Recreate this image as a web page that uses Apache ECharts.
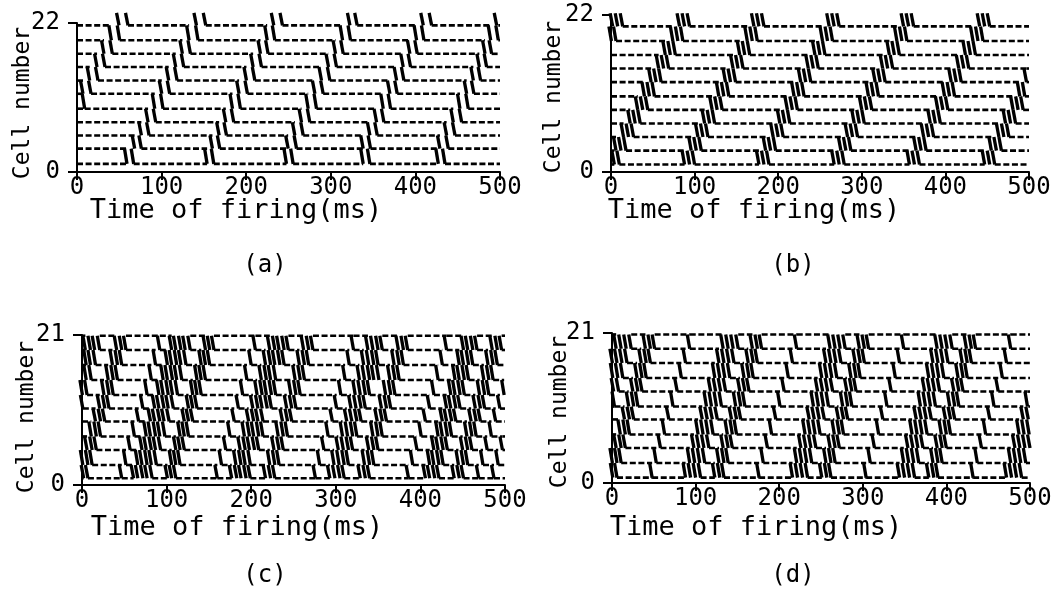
<!DOCTYPE html>
<html>
<head>
<meta charset="utf-8">
<script src="https://cdn.jsdelivr.net/npm/echarts@6/dist/echarts.min.js"></script>
<style>
  html, body { margin: 0; padding: 0; background: #fff; }
  #chart { width: 1056px; height: 590px; }
</style>
</head>
<body>
<div id="chart"></div>
<script>
// ---- data ---------------------------------------------------------------
const timeTicks = [0, 100, 200, 300, 400, 500];
const panelLabels = ['(a)', '(b)', '(c)', '(d)'];
const cellMax = [22, 22, 21, 21];
const xTitle = 'Time of firing(ms)';
const yTitle = 'Cell number';

// level (cell number) of each dashed row, top row first
const rowsA = [21.65, 19.45, 17.45, 15.5, 13.5, 11.55, 9.35, 7.35, 5.4, 3.45, 1.2];
const rowsB = [20.4, 18.35, 16.4, 14.5, 12.6, 10.6, 8.7, 6.8, 4.9, 3.0, 1.05];
const rowsC = [20.9, 18.9, 16.8, 14.7, 12.6, 10.7, 8.9, 6.8, 4.9, 2.8, 0.95];
const rowsD = [20.8, 18.8, 16.8, 14.7, 12.8, 10.7, 8.9, 6.8, 4.9, 2.8, 0.75];

// firing times (ms), one list per row of spikes, top first
const spikesA = [
  [49.7, 60.3, 141.2, 152.2, 232.6, 242.9, 322.6, 331.2, 409.3, 419.2, 496.1],
  [40.6, 50.5, 132.5, 143.1, 224.8, 233.8, 313.9, 323.3, 401.4, 410.1, 489.0, 498.0],
  [31.9, 41.8, 124.6, 134.1, 216.9, 225.9, 305.6, 314.7, 393.5, 402.2, 482.3, 490.1],
  [23.7, 33.1, 116.7, 126.2, 208.2, 218.1, 297.3, 306.8, 385.6, 394.3, 475.6, 484.2],
  [15.0, 24.8, 108.4, 118.3, 200.3, 210.2, 289.0, 298.9, 377.8, 386.4, 468.5, 477.1],
  [7.1, 16.6, 100.2, 109.6, 191.6, 201.5, 281.2, 291.0, 369.9, 378.5, 460.6, 469.2],
  [9.1, 91.9, 101.7, 183.8, 193.2, 273.3, 283.1, 362.0, 370.7, 452.7, 462.5],
  [84.0, 93.1, 175.9, 185.3, 265.4, 275.2, 354.1, 362.8, 444.8, 454.7],
  [76.1, 85.2, 168.0, 176.7, 257.5, 267.4, 346.2, 354.9, 436.9, 446.8],
  [68.2, 76.1, 160.1, 168.8, 249.6, 259.5, 338.3, 347.0, 429.0, 438.9],
  [59.1, 67.0, 153.8, 161.7, 247.6, 255.5, 338.3, 346.2, 427.1, 435.0]
];
const spikesB = [
  [2, 8, 14, 82, 88, 94, 171, 177, 183, 261, 267, 273, 350, 356, 362, 441, 447, 453],
  [0.5, 6, 74, 80, 86, 163, 169, 175, 253, 259, 265, 342, 348, 354, 433, 439, 445],
  [65, 71, 77, 154, 160, 166, 244, 250, 256, 333, 339, 345, 424, 430, 436],
  [57, 63, 69, 146, 152, 158, 236, 242, 248, 325, 331, 337, 416, 422, 428],
  [48, 54, 60, 137, 143, 149, 227, 233, 239, 316, 322, 328, 407, 413, 419, 497],
  [40, 46, 52, 129, 135, 141, 219, 225, 231, 308, 314, 320, 399, 405, 411, 489, 495],
  [32, 38, 44, 121, 127, 133, 211, 217, 223, 300, 306, 312, 391, 397, 403, 481, 487, 493],
  [23, 29, 35, 112, 118, 124, 202, 208, 214, 291, 297, 303, 382, 388, 394, 472, 478, 484],
  [15, 21, 27, 104, 110, 116, 194, 200, 206, 283, 289, 295, 374, 380, 386, 464, 470, 476],
  [6, 12, 18, 96, 102, 108, 185, 191, 197, 275, 281, 287, 365, 371, 377, 455, 461, 467],
  [4, 10, 88, 94, 100, 177, 183, 189, 267, 273, 279, 357, 363, 369, 447, 453, 459]
];
const spikesC = [
  [4, 10, 15, 21, 41, 47, 52, 92, 106, 111, 117, 122, 128, 146, 151, 156, 205, 222, 228, 233, 239, 244, 262, 268, 273, 321, 338, 344, 350, 355, 374, 380, 385, 431, 451, 456, 462, 467, 485, 491, 496],
  [5, 10, 16, 36, 42, 47, 87, 101, 106, 112, 117, 123, 141, 146, 151, 200, 217, 223, 228, 234, 239, 257, 263, 268, 316, 333, 339, 345, 350, 369, 375, 380, 426, 446, 451, 457, 462, 480, 486, 491],
  [5, 11, 31, 37, 42, 82, 96, 101, 107, 112, 118, 136, 141, 146, 195, 212, 218, 223, 229, 252, 258, 263, 311, 328, 334, 340, 345, 351, 364, 370, 375, 421, 441, 446, 452, 457, 475, 481, 486],
  [0.5, 6, 26, 32, 37, 77, 91, 96, 102, 107, 113, 131, 136, 141, 190, 207, 213, 218, 224, 229, 247, 253, 258, 306, 323, 329, 335, 340, 359, 365, 370, 416, 436, 441, 447, 452, 470, 476, 481, 499],
  [1, 21, 27, 32, 72, 86, 91, 97, 102, 108, 126, 131, 136, 185, 202, 208, 213, 219, 224, 242, 248, 253, 301, 318, 324, 330, 335, 354, 360, 365, 411, 431, 436, 442, 447, 465, 471, 476, 494],
  [16, 22, 27, 67, 81, 86, 92, 97, 103, 121, 126, 131, 180, 197, 203, 208, 214, 237, 243, 248, 296, 313, 319, 325, 330, 349, 355, 360, 406, 426, 431, 437, 442, 460, 466, 471, 489],
  [11, 17, 22, 62, 76, 81, 87, 92, 98, 116, 121, 126, 175, 192, 198, 203, 209, 214, 232, 238, 243, 291, 308, 314, 320, 325, 344, 350, 355, 401, 421, 426, 432, 437, 455, 461, 466, 484],
  [6, 12, 17, 57, 71, 76, 82, 87, 93, 111, 116, 121, 170, 187, 193, 198, 204, 209, 227, 233, 238, 286, 303, 309, 315, 320, 339, 345, 350, 396, 416, 421, 427, 432, 450, 456, 461, 479, 497],
  [1, 7, 12, 52, 66, 71, 77, 82, 88, 106, 111, 116, 165, 182, 188, 193, 199, 222, 228, 233, 281, 298, 304, 310, 315, 334, 340, 345, 391, 411, 416, 422, 427, 445, 451, 456, 474, 492],
  [2, 7, 47, 61, 66, 72, 77, 83, 101, 106, 111, 160, 177, 183, 188, 194, 199, 217, 223, 228, 276, 293, 299, 305, 310, 329, 335, 340, 386, 406, 411, 417, 422, 440, 446, 451, 469, 487]
];
const spikesD = [
  [5, 11, 17, 23, 40, 46, 51, 93, 133, 139, 145, 151, 168, 174, 179, 221, 261, 267, 273, 279, 296, 302, 307, 349, 389, 395, 401, 407, 424, 430, 435, 477],
  [0.5, 6, 12, 18, 35, 41, 46, 88, 128, 134, 140, 146, 163, 169, 174, 216, 256, 262, 268, 274, 291, 297, 302, 344, 384, 390, 396, 402, 419, 425, 430, 472],
  [1, 7, 13, 30, 36, 41, 83, 123, 129, 135, 141, 158, 164, 169, 211, 251, 257, 263, 269, 286, 292, 297, 339, 379, 385, 391, 397, 414, 420, 425, 467],
  [2, 8, 25, 31, 36, 78, 118, 124, 130, 136, 153, 159, 164, 206, 246, 252, 258, 264, 281, 287, 292, 334, 374, 380, 386, 392, 409, 415, 420, 462],
  [3, 20, 26, 31, 73, 113, 119, 125, 131, 148, 154, 159, 201, 241, 247, 253, 259, 276, 282, 287, 329, 369, 375, 381, 387, 404, 410, 415, 457, 497],
  [15, 21, 26, 68, 108, 114, 120, 126, 143, 149, 154, 196, 236, 242, 248, 254, 271, 277, 282, 324, 364, 370, 376, 382, 399, 405, 410, 452, 492, 498],
  [10, 16, 21, 63, 103, 109, 115, 121, 138, 144, 149, 191, 231, 237, 243, 249, 266, 272, 277, 319, 359, 365, 371, 377, 394, 400, 405, 447, 487, 493, 499],
  [5, 11, 16, 58, 98, 104, 110, 116, 133, 139, 144, 186, 226, 232, 238, 244, 261, 267, 272, 314, 354, 360, 366, 372, 389, 395, 400, 442, 482, 488, 494, 500],
  [0.5, 6, 11, 53, 93, 99, 105, 111, 128, 134, 139, 181, 221, 227, 233, 239, 256, 262, 267, 309, 349, 355, 361, 367, 384, 390, 395, 437, 477, 483, 489, 495],
  [1, 6, 48, 88, 94, 100, 106, 123, 129, 134, 176, 216, 222, 228, 234, 251, 257, 262, 304, 344, 350, 356, 362, 379, 385, 390, 432, 472, 478, 484, 490]
];

// ---- layout -------------------------------------------------------------
const FONT = '"DejaVu Sans Mono", "Liberation Mono", monospace';
const grids = [
  { left: 77,  top: 23,  width: 423, height: 149 },
  { left: 611, top: 15,  width: 418, height: 157 },
  { left: 82,  top: 335, width: 423, height: 150 },
  { left: 612, top: 333, width: 418, height: 150 }
];
// text anchors for each panel: x-axis title, y-axis title, panel letter
const xTitlePos = [[236, 211], [754, 211], [237, 528], [756, 528]];
const yTitlePos = [[23, 103], [554, 97], [27, 417], [560, 412]];
const letterPos = [[265, 266], [793, 266], [265, 576], [793, 576]];

const panelRows = [rowsA, rowsB, rowsC, rowsD];
const panelSpikes = [spikesA, spikesB, spikesC, spikesD];
// (a),(b): each spike row rises from its own dashed row (the top one stands free)
// (c),(d): spike rows fill the gaps between consecutive dashed rows
const risesFromRow = [true, true, false, false];
const topStroke = 1.85;          // height of the free-standing top strokes (cells)
const mergeGap = [12, 12, 9, 9]; // ms; closer spikes share one break in the dashes
const slantPx = 2.5;

const chart = echarts.init(document.getElementById('chart'), null, { renderer: 'canvas' });

function spikeItem(params, api) {
  const p0 = api.coord([api.value(0), api.value(1)]);
  const p1 = api.coord([api.value(0), api.value(2)]);
  return {
    type: 'line',
    shape: { x1: p0[0], y1: p0[1], x2: p1[0] - slantPx, y2: p1[1] },
    style: { stroke: '#000', lineWidth: 3.3, lineCap: 'butt' }
  };
}

function dashItem(params, api) {
  const p0 = api.coord([api.value(0), api.value(2)]);
  const p1 = api.coord([api.value(1), api.value(2)]);
  return {
    type: 'line',
    shape: { x1: p0[0], y1: p0[1], x2: p1[0], y2: p1[1] },
    style: { stroke: '#000', lineWidth: 2.6, lineDash: [6, 2.6], lineCap: 'butt' }
  };
}

const xAxes = [], yAxes = [], series = [], graphics = [];
const tMin = timeTicks[0], tMax = timeTicks[timeTicks.length - 1];

grids.forEach((g, i) => {
  xAxes.push({
    gridIndex: i, type: 'value', min: tMin, max: tMax,
    interval: timeTicks[1] - timeTicks[0],
    axisLine: { lineStyle: { color: '#000', width: 2 } },
    axisTick: { length: 8, lineStyle: { color: '#000', width: 2 } },
    axisLabel: { fontFamily: FONT, fontSize: 24, color: '#000', margin: 4 },
    splitLine: { show: false }
  });
  yAxes.push({
    gridIndex: i, type: 'value', min: 0, max: cellMax[i], interval: cellMax[i],
    axisLine: { lineStyle: { color: '#000', width: 2 } },
    axisTick: { length: 9, lineStyle: { color: '#000', width: 2 } },
    axisLabel: { fontFamily: FONT, fontSize: 24, color: '#000', margin: 17 },
    splitLine: { show: false }
  });

  const rows = panelRows[i];
  const bands = panelSpikes[i];
  // which dashed rows each spike row touches, and the y-span of its strokes
  const touches = rows.map(() => []);
  const pts = [];
  bands.forEach((times, k) => {
    let lo, hi, loRow, hiRow;
    if (risesFromRow[i]) {
      loRow = k; hiRow = k > 0 ? k - 1 : null;
      lo = rows[k]; hi = k > 0 ? rows[k - 1] : rows[k] + topStroke;
    } else {
      loRow = k + 1; hiRow = k;
      lo = rows[k + 1]; hi = rows[k];
    }
    times.forEach(t => {
      pts.push([t, lo, hi]);
      touches[loRow].push(t);
      if (hiRow !== null) touches[hiRow].push(t);
    });
  });

  // dashed rows, broken where strokes meet them
  const dashes = [];
  rows.forEach((y, r) => {
    const ts = touches[r].slice().sort((a, b) => a - b);
    let start = tMin;
    let c = 0;
    while (c < ts.length) {
      const first = ts[c];
      let last = first;
      while (c + 1 < ts.length && ts[c + 1] - last < mergeGap[i]) { c++; last = ts[c]; }
      c++;
      if (first - start > 1) dashes.push([start, first, y]);
      start = last;
    }
    if (tMax - start > 1) dashes.push([start, tMax, y]);
  });

  series.push({
    type: 'custom', xAxisIndex: i, yAxisIndex: i, clip: false, silent: true,
    renderItem: dashItem, encode: { x: [0, 1], y: 2 }, data: dashes
  });
  series.push({
    type: 'custom', xAxisIndex: i, yAxisIndex: i, clip: false, silent: true,
    renderItem: spikeItem, encode: { x: 0, y: [1, 2] }, data: pts
  });

  graphics.push({
    type: 'text', x: xTitlePos[i][0], y: xTitlePos[i][1],
    style: { text: xTitle, font: '27px ' + FONT, fill: '#000', align: 'center', verticalAlign: 'middle' }
  });
  graphics.push({
    type: 'text', x: yTitlePos[i][0], y: yTitlePos[i][1], rotation: Math.PI / 2,
    style: { text: yTitle, font: '23px ' + FONT, fill: '#000', align: 'center', verticalAlign: 'middle' }
  });
  graphics.push({
    type: 'text', x: letterPos[i][0], y: letterPos[i][1],
    style: { text: panelLabels[i], font: '24px ' + FONT, fill: '#000', align: 'center', verticalAlign: 'middle' }
  });
});

chart.setOption({
  animation: false,
  backgroundColor: '#fff',
  grid: grids,
  xAxis: xAxes,
  yAxis: yAxes,
  series: series,
  graphic: graphics
});
</script>
</body>
</html>
